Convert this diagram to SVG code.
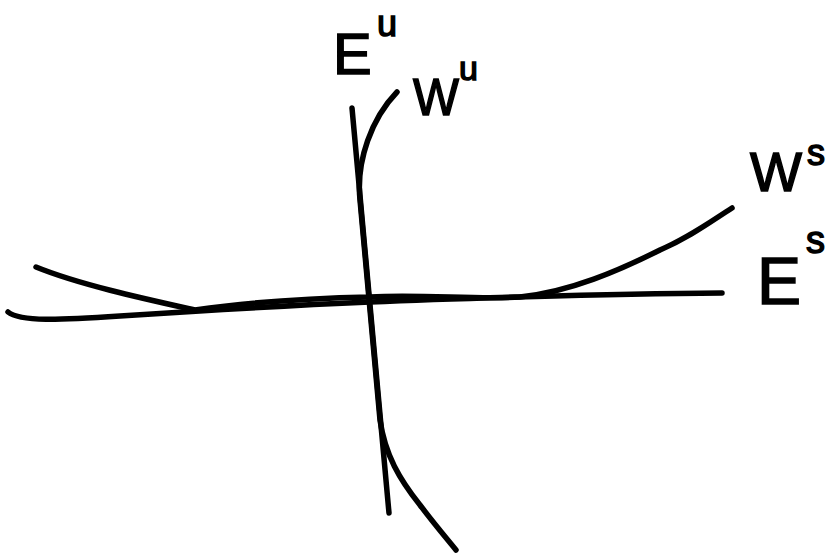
<svg xmlns="http://www.w3.org/2000/svg" width="829" height="553" viewBox="0 0 829 553">
<style>
.c{fill:none;stroke:#000;stroke-width:5.5;stroke-linecap:round;stroke-linejoin:round}
.t{font-family:"Liberation Sans","DejaVu Sans",sans-serif;fill:#000;stroke:#000;stroke-width:1.5}
</style>
<rect width="829" height="553" fill="#fff"/>
<g id="curves">
<path id="Es" class="c" d="M8,312 C20,322 60,320 120,316 S300,305 370,302 S600,294 722,293"/>
<path id="Ws" class="c" d="M36,267 C80,285 150,300 195,310 C250,302 320,298 370,297 C420,294 480,300 520,297 C570,292 620,270 660,250 C690,237 710,222 732,208"/>
<path id="Eu" class="c" d="M352,108 L389,513"/>
<path id="Wu" class="c" d="M397,92 C372,118 356,160 360,200 L380,420 C385,455 400,480 420,505 C435,525 448,540 456,550"/>
</g>
<g id="labels">
<g id="label-Eu"><text class="t" x="333" y="74" font-size="58">E</text><text class="t" x="377" y="36" font-size="36">u</text></g>
<g id="label-Wu"><text class="t" x="413" y="115" font-size="52" textLength="46" lengthAdjust="spacingAndGlyphs">W</text><text class="t" x="459" y="80" font-size="34">u</text></g>
<g id="label-Ws"><text class="t" x="750" y="191" font-size="56" textLength="52" lengthAdjust="spacingAndGlyphs">W</text><text class="t" x="807" y="165" font-size="36">s</text></g>
<g id="label-Es"><text class="t" x="757" y="304" font-size="66">E</text><text class="t" x="806" y="253" font-size="38">s</text></g>
</g>
</svg>
